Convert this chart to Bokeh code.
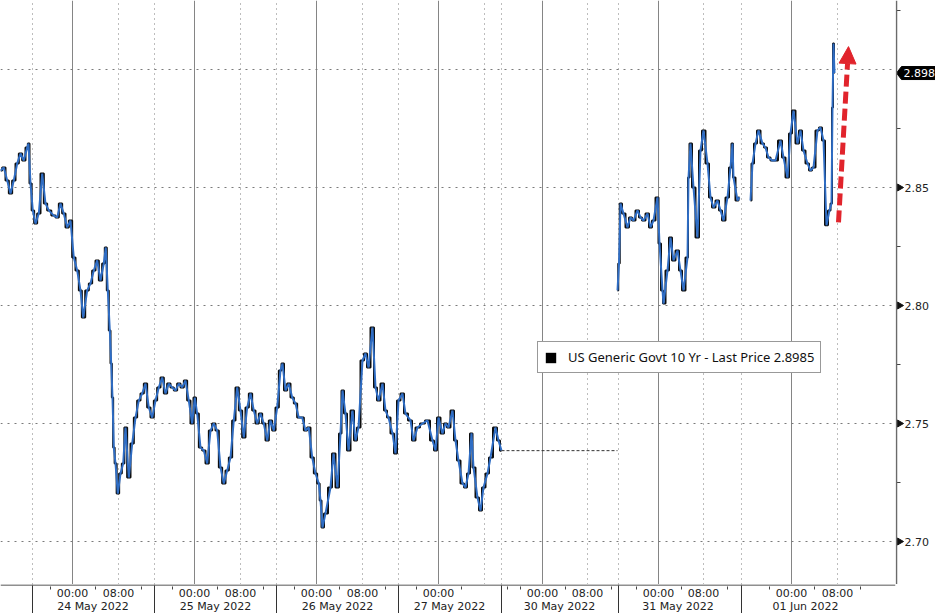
from bokeh.plotting import figure
from bokeh.layouts import column, row
from bokeh.models import (FixedTicker, Grid, Legend, LegendItem, Arrow, NormalHead,
                          Range1d, Span)
from bokeh.core.properties import value
from bokeh.embed import file_html
from bokeh.resources import INLINE

# ---------------- data (x = position on Bloomberg's compressed intraday axis) ----------------
t_may23_27 = [0, 3.3, 6.7, 10, 13.3, 16.7, 20, 23.3, 26.7, 28,
              30, 32.3, 35, 38.3, 41.7, 45, 48.3, 53.3, 56.7, 60,
              63.3, 66.7, 70, 73.3, 76.7, 80, 82.7, 86.7, 90, 93.3,
              96.7, 100, 103.3, 105.3, 107.3, 109.3, 110.7, 112, 113.3, 115,
              117.3, 120, 122.7, 125, 128.3, 131.7, 135, 138.3, 141.7, 145,
              148.3, 151.7, 155, 158.3, 161.7, 165, 168.3, 171.7, 175, 178.3,
              181.7, 185, 188.3, 191.7, 194.3, 196.7, 200, 203.3, 206.7, 210,
              213.3, 216.7, 220, 223.3, 226.7, 230, 233.3, 236.7, 240, 243.3,
              246.7, 250, 253.3, 256.7, 260, 263.3, 266.7, 270, 273.3, 276.7,
              280, 282, 285, 288.3, 291.7, 295, 298.3, 301.7, 305, 308.3,
              311.7, 315, 318.3, 320, 322, 325, 330, 333, 337, 340,
              342, 345, 348, 352, 355, 358, 362, 365, 368, 372,
              375, 378, 382, 385, 388, 392, 395, 398, 402, 405,
              410, 413, 417, 422, 427, 432, 435, 438, 442, 445,
              448, 452, 455, 458, 462, 465, 468, 471, 473, 477,
              480, 483, 487, 490, 495, 498, 501]
y_may23_27 = [2.8572, 2.8585, 2.8530, 2.8475, 2.8530, 2.8602, 2.8644, 2.8614, 2.8669, 2.8686,
              2.8517, 2.8403, 2.8347, 2.8390, 2.8559, 2.8432, 2.8403, 2.8381, 2.8373, 2.8432,
              2.8390, 2.8331, 2.8360, 2.8203, 2.8148, 2.8064, 2.7949, 2.8064, 2.8093, 2.8148,
              2.8191, 2.8106, 2.8178, 2.8246, 2.8064, 2.7894, 2.7754, 2.7610, 2.7398, 2.7331,
              2.7203, 2.7288, 2.7331, 2.7483, 2.7271, 2.7415, 2.7525, 2.7597, 2.7627, 2.7669,
              2.7568, 2.7525, 2.7597, 2.7653, 2.7695, 2.7627, 2.7669, 2.7653, 2.7640, 2.7669,
              2.7653, 2.7682, 2.7597, 2.7500, 2.7610, 2.7542, 2.7398, 2.7386, 2.7331, 2.7470,
              2.7500, 2.7470, 2.7314, 2.7246, 2.7301, 2.7356, 2.7513, 2.7653, 2.7555, 2.7441,
              2.7568, 2.7627, 2.7555, 2.7500, 2.7542, 2.7500, 2.7428, 2.7513, 2.7470, 2.7568,
              2.7725, 2.7754, 2.7640, 2.7669, 2.7610, 2.7585, 2.7525, 2.7525, 2.7470, 2.7483,
              2.7356, 2.7288, 2.7246, 2.7174, 2.7059, 2.7119, 2.7229, 2.7373, 2.7229, 2.7458,
              2.7640, 2.7542, 2.7386, 2.7555, 2.7428, 2.7483, 2.7767, 2.7797, 2.7737, 2.7907,
              2.7653, 2.7597, 2.7669, 2.7555, 2.7525, 2.7458, 2.7373, 2.7597, 2.7627, 2.7542,
              2.7513, 2.7428, 2.7483, 2.7500, 2.7513, 2.7428, 2.7386, 2.7525, 2.7458, 2.7500,
              2.7483, 2.7555, 2.7428, 2.7343, 2.7246, 2.7229, 2.7288, 2.7458, 2.7314, 2.7186,
              2.7131, 2.7229, 2.7288, 2.7356, 2.7483, 2.7428, 2.7385]

t_may31 = [617, 618.5, 620, 623, 627, 630, 633, 637, 640, 643,
           647, 650, 653, 657, 659, 662, 663, 667, 670, 673,
           677, 680, 683, 687, 688, 690, 693, 697, 700, 703,
           707, 710, 713, 717, 720, 723, 727, 730, 732, 733,
           737, 739]
y_may31 = [2.8064, 2.8178, 2.8432, 2.8390, 2.8331, 2.8373, 2.8360, 2.8403, 2.8373, 2.8360,
           2.8390, 2.8331, 2.8360, 2.8458, 2.8263, 2.8064, 2.8008, 2.8148, 2.8288, 2.8191,
           2.8233, 2.8148, 2.8064, 2.8203, 2.8542, 2.8686, 2.8500, 2.8288, 2.8657, 2.8742,
           2.8602, 2.8458, 2.8415, 2.8445, 2.8403, 2.8360, 2.8458, 2.8585, 2.8686, 2.8542,
           2.8445, 2.8458]

t_jun01 = [750, 752, 755, 758, 762, 765, 768, 772, 775, 780,
           783, 787, 790, 793, 797, 800, 803, 807, 810, 813,
           817, 820, 823, 826, 829, 831, 832, 833, 834]
y_jun01 = [2.8445, 2.8602, 2.8686, 2.8742, 2.8686, 2.8669, 2.8627, 2.8614, 2.8614, 2.8699,
           2.8627, 2.8542, 2.8729, 2.8826, 2.8686, 2.8742, 2.8657, 2.8602, 2.8572, 2.8585,
           2.8742, 2.8754, 2.8699, 2.8340, 2.8403, 2.8432, 2.8839, 2.9110, 2.8985]

last_price = 2.8985
last_label = "2.898"
legend_text = "US Generic Govt 10 Yr - Last Price 2.8985"

# x-axis layout (positions on the same compressed axis)
session_starts = [32, 154, 276, 398, 501, 618, 741]
midnights = [72, 194, 316, 438, 542, 658, 791]
eights = [118, 240, 362, 484, 587, 703, 837]
eight_labelled = [True, True, True, False, True, True, True]
date_labels = ["24 May 2022", "25 May 2022", "26 May 2022", "27 May 2022",
               "30 May 2022", "31 May 2022", "01 Jun 2022"]
date_centers = [92.5, 215, 337, 449, 559, 677.5, 805]

y_major = [2.70, 2.75, 2.80, 2.85, 2.90]
y_major_labels = ["2.70", "2.75", "2.80", "2.85", ""]
y_minor = [2.725, 2.775, 2.825, 2.875, 2.925]

arrow_start = (838, 2.8352)
arrow_end = (848, 2.9097)

BLUE = "#2f6dc4"
RED = "#e1242c"
FONT = "DejaVu Sans"
Y_RANGE = (2.68178, 2.92924)

W_MAIN, H_MAIN, W_RIGHT, H_BOTTOM = 895, 584, 40, 29


def bare(fig):
    fig.center = [r for r in fig.center if not isinstance(r, Grid)]
    return fig


common = dict(output_backend="svg", toolbar_location=None, x_axis_location=None,
              y_axis_location=None, min_border_left=0, min_border_right=0,
              min_border_top=0, min_border_bottom=0, outline_line_color=None,
              background_fill_color="white", border_fill_color="white")

# ---------------- main plot ----------------
p = bare(figure(width=W_MAIN, height=H_MAIN, x_range=Range1d(0, W_MAIN),
                y_range=Range1d(*Y_RANGE), **common))

p.add_layout(Grid(dimension=0, ticker=FixedTicker(ticks=midnights),
                  grid_line_color="#858585", grid_line_width=1))
p.add_layout(Grid(dimension=0, ticker=FixedTicker(ticks=eights + session_starts),
                  grid_line_color="#7a7a7a", grid_line_dash="1 4", grid_line_width=1))
p.add_layout(Grid(dimension=1, ticker=FixedTicker(ticks=y_major),
                  grid_line_color="#7a7a7a", grid_line_dash="2 5", grid_line_width=1))

for tx, ty in [(t_may23_27, y_may23_27), (t_may31, y_may31), (t_jun01, y_jun01)]:
    p.step(tx, ty, mode="center", line_color="#0d0d0d", line_width=2.0)
    p.line(tx, ty, line_color=BLUE, line_width=2.0)

# holiday (30 May): last price carried forward
p.line([t_may23_27[-1], t_may31[0]], [y_may23_27[-1], y_may23_27[-1]],
       line_color="#333333", line_dash="3 2", line_width=1)

# legend key: a zero-size black box at the last price (only its legend swatch is seen)
icon = p.quad(left=[t_jun01[-1]], right=[t_jun01[-1]], top=[last_price], bottom=[last_price],
              fill_color="black", line_color=None)
legend = Legend(items=[LegendItem(label=legend_text, renderers=[icon])],
                location=(537, 211), orientation="vertical",
                border_line_color="#333333", border_line_width=1,
                background_fill_color="white", background_fill_alpha=1,
                glyph_width=13, glyph_height=13, label_standoff=11, label_height=16,
                padding=6, margin=0, spacing=0,
                label_text_font="Noto Sans", label_text_font_size="13px",
                label_text_color="#111111")
p.add_layout(legend)

p.add_layout(Arrow(end=NormalHead(size=17, fill_color=RED, line_color=RED, line_width=1),
                   x_start=arrow_start[0], y_start=arrow_start[1],
                   x_end=arrow_end[0], y_end=arrow_end[1],
                   line_color=RED, line_width=5, line_dash="12 5"))

# ---------------- right axis strip ----------------
r = bare(figure(width=W_RIGHT, height=H_MAIN, x_range=Range1d(0, W_RIGHT),
                y_range=p.y_range, **common))
r.add_layout(Span(location=1, dimension="height", line_color="#6a6a6a", line_width=1.5))
r.segment(x0=[1] * len(y_minor), y0=y_minor, x1=[5] * len(y_minor), y1=y_minor,
          line_color="#444444", line_width=1)
r.scatter(x=[4] * 4, y=y_major[:4], marker="triangle", angle=-1.5708, size=7,
          fill_color="#111111", line_color="#111111")
r.text(x=[9] * 5, y=y_major, text=y_major_labels, text_baseline="middle", text_align="left",
       text_font=value(FONT), text_font_size="11px", text_color="#222222")
h = 6.5 / 2360
r.patch(x=[1, 6, W_RIGHT, W_RIGHT, 6], y=[last_price, last_price + h, last_price + h,
                                           last_price - h, last_price - h],
        fill_color="black", line_color="black")
r.text(x=[8], y=[last_price], text=[last_label], text_baseline="middle", text_align="left",
       text_font=value(FONT), text_font_size="11px", text_color="white")

# ---------------- bottom axis strip ----------------
b = bare(figure(width=W_MAIN + W_RIGHT, height=H_BOTTOM, x_range=p.x_range,
                y_range=Range1d(0, H_BOTTOM), **dict(common, min_border_right=W_RIGHT)))
b.add_layout(Span(location=H_BOTTOM - 0.5, dimension="width", line_color="#6a6a6a",
                  line_width=1.5))
small = []
for m in midnights:
    small += [m - 22, m + 23, m + 69]
b.segment(x0=small, y0=[H_BOTTOM - 2] * len(small), x1=small, y1=[H_BOTTOM - 5] * len(small),
          line_color="#444444", line_width=1)
b.segment(x0=session_starts, y0=[H_BOTTOM] * 7, x1=session_starts, y1=[0] * 7,
          line_color="#333333", line_width=1)
tx, tl = [], []
for m, e, lab in zip(midnights, eights, eight_labelled):
    tx.append(m); tl.append("00:00")
    if lab:
        tx.append(e); tl.append("08:00")
b.text(x=tx, y=[H_BOTTOM - 9] * len(tx), text=tl, text_align="center", text_baseline="middle",
       text_font=value(FONT), text_font_size="11px", text_color="#222222")
b.text(x=date_centers, y=[H_BOTTOM - 22] * len(date_centers), text=date_labels,
       text_align="center", text_baseline="middle",
       text_font=value(FONT), text_font_size="11px", text_color="#222222")

layout = column(row(p, r), b)
open("out.html", "w").write(file_html(layout, INLINE))
